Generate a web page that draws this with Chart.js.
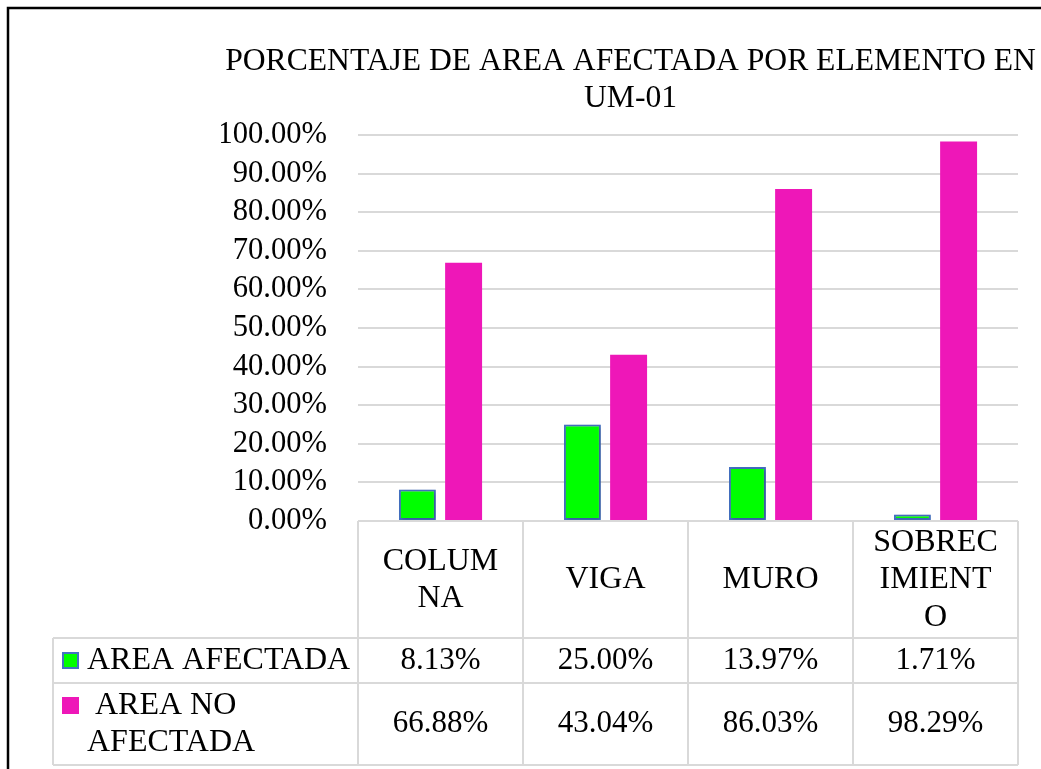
<!DOCTYPE html>
<html>
<head>
<meta charset="utf-8">
<title>PORCENTAJE DE AREA AFECTADA POR ELEMENTO EN UM-01</title>
<script src="https://cdn.jsdelivr.net/npm/chart.js@4.4.1/dist/chart.umd.min.js"></script>
<style>
  html, body { margin: 0; padding: 0; background: #fff; }
  .chart-box { position: relative; width: 1041px; height: 769px; }
</style>
</head>
<body>
<div class="chart-box"><canvas id="myChart"></canvas></div>
<script>
const titleLines = ['PORCENTAJE DE AREA AFECTADA POR ELEMENTO EN', 'UM-01'];
const categories = ['COLUMNA', 'VIGA', 'MURO', 'SOBRECIMIENTO'];
const seriesNames = ['AREA AFECTADA', ' AREA NO AFECTADA'];
const areaAfectada = [8.13, 25.00, 13.97, 1.71];
const areaNoAfectada = [66.88, 43.04, 86.03, 98.29];
const yTickValues = [0, 10, 20, 30, 40, 50, 60, 70, 80, 90, 100];

const FONT = '"Liberation Serif", "Times New Roman", serif';
const GREEN = '#00ff00';
const GREEN_BORDER = '#4472c4';
const PINK = '#ee17b8';
const LINE = '#d9d9d9';

Chart.defaults.font.family = FONT;
Chart.defaults.color = '#000';

const pct = v => v.toFixed(2) + '%';

function wrapChars(ctx, text, maxW) {
  const lines = [];
  let line = '';
  for (const ch of text) {
    if (line && ctx.measureText(line + ch).width > maxW) {
      lines.push(line);
      line = ch;
    } else {
      line += ch;
    }
  }
  if (line) lines.push(line);
  return lines;
}

function wrapWords(ctx, text, maxW) {
  const words = text.split(' ');
  const lines = [];
  let line = words[0];
  for (let i = 1; i < words.length; i++) {
    const test = line + ' ' + words[i];
    if (line.trim() && ctx.measureText(test).width > maxW) {
      lines.push(line);
      line = words[i];
    } else {
      line = test;
    }
  }
  lines.push(line);
  return lines;
}

// outer frame + title
const framePlugin = {
  id: 'frame',
  afterDraw(chart) {
    const ctx = chart.ctx;
    ctx.save();
    ctx.strokeStyle = '#000';
    ctx.lineWidth = 2.5;
    ctx.beginPath();
    ctx.moveTo(8, chart.height);
    ctx.lineTo(8, 8);
    ctx.lineTo(chart.width, 8);
    ctx.stroke();

    ctx.fillStyle = '#000';
    ctx.font = '31.6px ' + FONT;
    ctx.textAlign = 'center';
    ctx.textBaseline = 'middle';
    titleLines.forEach((t, i) => ctx.fillText(t, 630.5, 61.5 + i * 37.5));
    ctx.restore();
  }
};

// soft shadow behind the green bars
const shadowPlugin = {
  id: 'barShadow',
  beforeDatasetDraw(chart, args) {
    if (args.index !== 0) return;
    const ctx = chart.ctx;
    ctx.save();
    ctx.shadowColor = 'rgba(0,0,0,0.3)';
    ctx.shadowBlur = 4;
    ctx.shadowOffsetX = 1;
    ctx.shadowOffsetY = 1;
  },
  afterDatasetDraw(chart, args) {
    if (args.index === 0) chart.ctx.restore();
  }
};

// data table under the plot
const dataTablePlugin = {
  id: 'dataTable',
  afterDraw(chart) {
    const { ctx, chartArea: area, scales: { x } } = chart;
    const n = categories.length;
    const cw = (area.right - area.left) / n;
    const top = area.bottom;
    const headBottom = top + 117;
    const row1Bottom = headBottom + 45;
    const row2Bottom = row1Bottom + 82;
    const legendLeft = 53;

    ctx.save();
    ctx.strokeStyle = LINE;
    ctx.lineWidth = 2;
    ctx.beginPath();
    ctx.moveTo(area.left, top);
    ctx.lineTo(area.right, top);
    [headBottom, row1Bottom, row2Bottom].forEach(y => {
      ctx.moveTo(legendLeft, y);
      ctx.lineTo(area.right, y);
    });
    for (let i = 0; i <= n; i++) {
      const xx = area.left + i * cw;
      ctx.moveTo(xx, top);
      ctx.lineTo(xx, row2Bottom);
    }
    ctx.moveTo(legendLeft, headBottom);
    ctx.lineTo(legendLeft, row2Bottom);
    ctx.stroke();

    ctx.fillStyle = '#000';
    ctx.textBaseline = 'middle';

    // header row
    ctx.font = '32px ' + FONT;
    ctx.textAlign = 'center';
    const headMid = top + 59;
    categories.forEach((c, i) => {
      const lines = wrapChars(ctx, c, 130);
      const cx = x.getPixelForValue(i);
      const y0 = headMid - (lines.length - 1) * 37.5 / 2;
      lines.forEach((l, j) => ctx.fillText(l, cx, y0 + j * 37.5));
    });

    // value rows
    const rows = [
      { values: areaAfectada, mid: (headBottom + row1Bottom) / 2 },
      { values: areaNoAfectada, mid: (row1Bottom + row2Bottom) / 2 }
    ];
    ctx.font = '31px ' + FONT;
    rows.forEach(r => {
      r.values.forEach((v, i) => ctx.fillText(pct(v), x.getPixelForValue(i), r.mid));
    });

    // legend column
    ctx.font = '32px ' + FONT;
    ctx.textAlign = 'left';
    rows.forEach((r, k) => {
      const lines = wrapWords(ctx, seriesNames[k], 272);
      const y0 = r.mid - (lines.length - 1) * 37 / 2;
      lines.forEach((l, j) => ctx.fillText(l, 87, y0 + j * 37));
      const s = 17;
      if (k === 0) {
        ctx.fillStyle = GREEN;
        ctx.fillRect(62, y0 - s / 2, s, s);
        ctx.strokeStyle = GREEN_BORDER;
        ctx.lineWidth = 2;
        ctx.strokeRect(63, y0 - s / 2 + 1, s - 2, s - 2);
      } else {
        ctx.fillStyle = PINK;
        ctx.fillRect(62, y0 - s / 2, s, s);
      }
      ctx.fillStyle = '#000';
    });
    ctx.restore();
  }
};

new Chart(document.getElementById('myChart'), {
  type: 'bar',
  data: {
    labels: categories,
    datasets: [
      {
        label: seriesNames[0],
        data: areaAfectada,
        backgroundColor: GREEN,
        borderColor: GREEN_BORDER,
        borderWidth: 2,
        borderSkipped: false,
        categoryPercentage: 0.56,
        barPercentage: 0.8
      },
      {
        label: seriesNames[1],
        data: areaNoAfectada,
        backgroundColor: PINK,
        borderWidth: 0,
        categoryPercentage: 0.56,
        barPercentage: 0.8
      }
    ]
  },
  options: {
    responsive: true,
    maintainAspectRatio: false,
    animation: false,
    layout: { padding: { top: 135, left: 221, right: 23, bottom: 248 } },
    plugins: {
      legend: { display: false },
      tooltip: { enabled: false },
      title: { display: false }
    },
    scales: {
      x: { display: false },
      y: {
        min: 0,
        max: 100,
        afterBuildTicks: scale => { scale.ticks = yTickValues.map(v => ({ value: v })); },
        afterFit: scale => { scale.width = 137; },
        border: { display: false },
        grid: { color: LINE, lineWidth: 2, drawTicks: false },
        ticks: { padding: 31, autoSkip: false, font: { size: 30.6 }, color: '#000', callback: v => pct(v) }
      }
    }
  },
  plugins: [shadowPlugin, dataTablePlugin, framePlugin]
});
</script>
</body>
</html>
